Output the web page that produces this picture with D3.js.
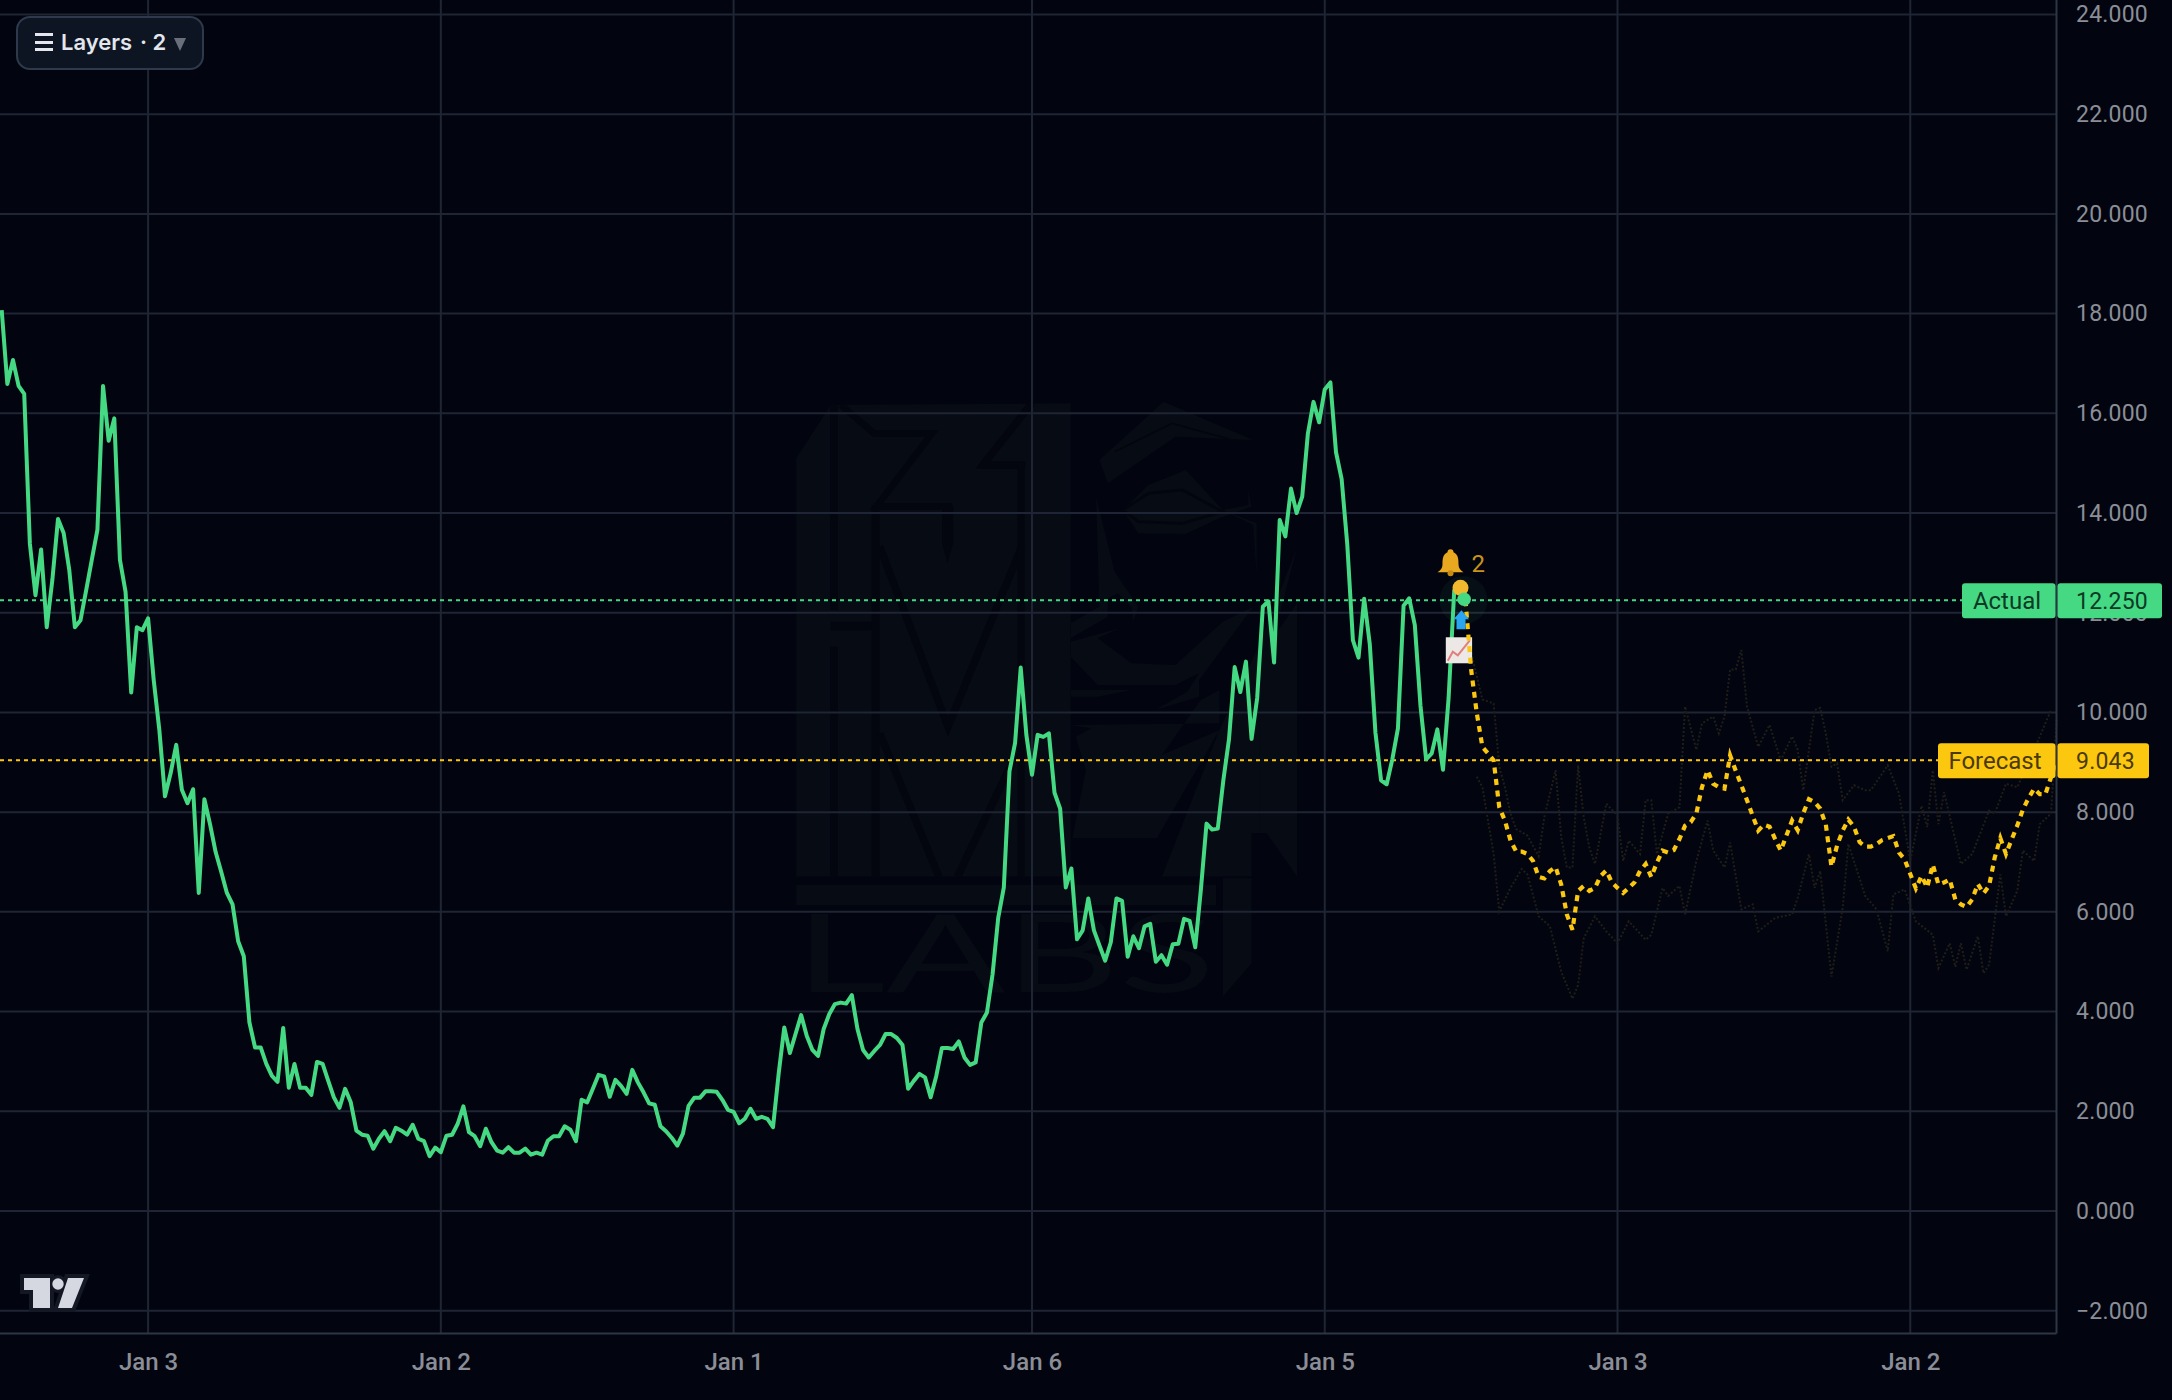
<!DOCTYPE html>
<html>
<head>
<meta charset="utf-8">
<title>Actual vs Forecast</title>
<script src="https://cdn.jsdelivr.net/npm/d3@7"></script>
<style>
  html, body { margin: 0; padding: 0; background: #02050f; }
  svg { display: block; }
</style>
</head>
<body>
<svg id="chart" width="2172" height="1400"></svg>
<script>
// Price tick values and date labels
const priceTicks = [-2, 0, 2, 4, 6, 8, 10, 12, 14, 16, 18, 20, 22, 24];
const dateTickBars = [26, 78, 130, 183, 235, 287, 339];
const dateTickLabels = ["Jan 3", "Jan 2", "Jan 1", "Jan 6", "Jan 5", "Jan 3", "Jan 2"];

// Realised series, one value per bar from bar 0
const actualValues = [
  18.07,16.59,17.07,16.55,16.39,13.39,12.35,13.27,11.71,12.66,
  13.88,13.6,12.86,11.71,11.85,12.45,13.06,13.66,16.55,15.45,
  15.9,13.06,12.42,10.4,11.71,11.65,11.89,10.65,9.65,8.32,
  8.78,9.35,8.45,8.18,8.46,6.38,8.26,7.76,7.2,6.8,
  6.38,6.15,5.41,5.11,3.78,3.28,3.28,2.95,2.71,2.59,
  3.67,2.47,2.95,2.47,2.47,2.33,2.99,2.95,2.61,2.28,
  2.07,2.45,2.18,1.61,1.53,1.51,1.25,1.45,1.6,1.4,
  1.67,1.61,1.53,1.73,1.45,1.4,1.1,1.27,1.18,1.51,
  1.53,1.75,2.1,1.58,1.5,1.3,1.65,1.38,1.21,1.17,
  1.28,1.17,1.17,1.25,1.13,1.17,1.13,1.41,1.5,1.5,
  1.7,1.63,1.4,2.23,2.18,2.45,2.73,2.7,2.29,2.63,
  2.51,2.35,2.83,2.58,2.38,2.16,2.13,1.7,1.6,1.47,
  1.31,1.55,2.11,2.27,2.27,2.4,2.4,2.39,2.23,2.03,
  1.99,1.76,1.85,2.05,1.85,1.89,1.85,1.68,2.75,3.68,
  3.17,3.55,3.93,3.51,3.23,3.11,3.65,3.95,4.15,4.18,
  4.16,4.33,3.65,3.23,3.08,3.21,3.33,3.55,3.55,3.47,
  3.33,2.45,2.61,2.75,2.68,2.28,2.71,3.27,3.27,3.25,
  3.4,3.08,2.93,2.98,3.78,3.98,4.75,5.88,6.49,8.82,
  9.39,10.9,9.55,8.75,9.55,9.51,9.58,8.39,8.07,6.49,
  6.87,5.45,5.63,6.27,5.63,5.32,5.02,5.39,6.27,6.22,
  5.1,5.51,5.27,5.71,5.76,5.0,5.13,4.94,5.35,5.36,
  5.86,5.82,5.29,6.45,7.77,7.65,7.67,8.65,9.47,10.91,
  10.41,11.02,9.47,10.29,12.12,12.23,11.0,13.86,13.53,14.49,
  14.0,14.33,15.59,16.23,15.82,16.48,16.62,15.22,14.68,13.37,
  11.45,11.1,12.28,11.37,9.6,8.64,8.56,9.06,9.68,12.14,
  12.29,11.75,10.14,9.06,9.18,9.66,8.85,10.29,12.45,12.5,
  12.25
];

// Forecast path, one value per bar from forecastStartBar
const forecastStartBar = 260;
const forecastValues = [
  12.25,10.86,9.99,9.31,9.18,9.04,8.1,7.83,7.43,7.21,
  7.21,7.16,7.02,6.7,6.67,6.82,6.9,6.55,5.95,5.64,
  6.42,6.52,6.42,6.48,6.72,6.83,6.59,6.48,6.38,6.48,
  6.59,6.82,6.96,6.7,6.99,7.23,7.19,7.24,7.46,7.73,
  7.8,7.97,8.5,8.84,8.57,8.5,8.47,9.14,8.83,8.54,
  8.24,7.93,7.63,7.75,7.71,7.46,7.23,7.53,7.83,7.64,
  7.98,8.26,8.2,8.07,7.75,6.91,7.33,7.63,7.85,7.71,
  7.4,7.31,7.31,7.36,7.44,7.48,7.52,7.19,7.05,6.76,
  6.47,6.72,6.49,6.95,6.55,6.59,6.65,6.25,6.15,6.1,
  6.25,6.56,6.37,6.52,7.09,7.48,7.16,7.45,7.73,8.05,
  8.28,8.47,8.36,8.36,8.7,9.043
];

// Faint upper and lower scenario traces around the forecast
const upperBars = [261,262,263,265,266,267,268,269,271,273,274,276,277,278,279,280,281,282,283,285,287,288,289,291,292,293,294,296,298,299,301,302,304,305,306,307,308,309,310,312,314,316,318,319,320,322,323,324,325,326,327,329,331,332,335,337,339,341,342,343,344,345,348,350,353,354,356,358,361,364];
const upperValues = [11.2,10.73,10.26,10.18,8.91,8.5,7.97,7.66,7.53,7.12,7.9,8.84,7.5,6.89,6.89,8.94,7.9,7.29,6.96,8.17,7.93,7.02,7.43,7.16,8.24,8.24,7.16,7.97,8.1,10.12,9.25,9.78,9.92,9.58,9.92,10.86,10.86,11.25,10.12,9.31,9.75,9.04,9.52,9.25,8.44,10.05,10.09,9.58,8.91,8.98,8.24,8.54,8.44,8.44,8.94,8.37,7.02,8.13,7.7,8.84,7.76,8.4,6.96,7.16,8.03,7.97,8.57,8.5,9.25,10.05];
const lowerBars = [262,263,265,266,268,270,271,273,275,277,279,280,281,283,285,287,289,292,293,295,296,298,299,301,303,304,306,307,309,311,312,315,318,319,321,322,323,325,327,328,331,333,335,336,338,340,343,344,346,347,348,349,351,352,353,355,356,358,359,361,362,364,365];
const lowerValues = [8.71,8.5,7.16,6.01,6.48,6.86,6.75,5.91,5.71,4.8,4.26,4.53,5.47,5.91,5.61,5.37,5.81,5.44,5.54,6.48,6.32,6.52,5.95,7.02,7.83,7.23,6.89,7.39,6.05,6.15,5.61,5.88,5.95,6.28,7.16,6.48,6.82,4.7,6.08,7.36,6.32,6.05,5.21,6.35,6.45,5.81,5.54,4.87,5.37,4.9,5.37,4.84,5.51,4.77,4.94,6.75,5.91,6.42,7.23,7.02,7.76,7.97,9.85];

// Last-value tags on the price scale
const actualLast = 12.25;
const forecastLast = 9.043;

const svg = d3.select("#chart");
const palette = {
  bg: "#02050f", grid: "#1f2534", axis: "#2e3646", tick: "#8b8e97",
  green: "#45d984", yellow: "#fbc70f", faint: "#1f1e19",
  wmLight: "#070b14", wmDark: "#03060f"
};

const plotRight = 2056.5, plotBottom = 1333.5;
const x = d3.scaleLinear().domain([0, 365]).range([1.7, 2056.65]);
const y = d3.scaleLinear().domain([-2, 24]).range([1310.7, 14.5]);

svg.append("rect").attr("width", 2172).attr("height", 1400).attr("fill", palette.bg);

// Background watermark: emblem with lettering below, drawn first so the grid sits on it
const mark = svg.append("g").attr("transform", "translate(780,390) scale(0.338,0.3333)");
const lightShapes = [
  "M48,205 L150,45 L860,40 L860,1460 L48,1460 Z",
  "M945,210 L1135,35 L1400,150 L1170,140 L970,280 Z",
  "M1015,360 L1090,285 L1200,240 L1310,360 L1385,345 L1385,300 L1395,350 L1300,385 L1200,432 L1060,430 Z",
  "M935,320 L990,545 L1060,650 L1045,695 L1040,650 L1000,610 L970,625 L970,680 L860,745 L860,700 L945,650 Z",
  "M1310,360 L1410,400 L1410,560 L1400,405 Z",
  "M860,755 L1005,715 L940,745 L1040,820 L1170,825 L1310,695 L1400,650 L1240,870 L1240,920 L1110,960 L1205,905 L1240,850 L1170,885 L940,885 L860,800 Z",
  "M860,900 L1040,900 L940,920 L860,920 Z",
  "M860,1005 L920,1015 L875,1040 L905,1140 L865,1345 L1115,1345 L1300,1020 L1130,1095 L1245,930 L1300,900 L1300,1000 Z",
  "M1300,1020 L1130,1460 L1395,1460 L1395,1330 L1420,1330 L1420,900 L1530,470 L1420,760 Z",
  "M1420,800 L1530,640 L1530,1460 L1440,1330 L1420,1330 Z",
  "M48,1485 L1290,1485 L1290,1545 L48,1545 Z",
  "M1310,1465 L1395,1465 L1395,1720 L1310,1820 Z",
  "M480,350 L512,350 L512,460 L495,520 L480,460 Z"
];
mark.selectAll("path.light").data(lightShapes).join("path").attr("class", "light")
  .attr("d", d => d).attr("fill", (d, i) => i === lightShapes.length - 1 ? palette.wmDark : palette.wmLight);
const darkStrokes = [
  { d: "M160,40 L160,660", w: 22 },
  { d: "M150,708 L283,708", w: 25 },
  { d: "M160,770 L160,1460", w: 22 },
  { d: "M283,345 L283,1460", w: 24 },
  { d: "M180,45 L278,130 L450,130 L285,350 L510,350", w: 20 },
  { d: "M295,470 L497,1010 L715,470", w: 22 },
  { d: "M295,1030 L470,1460", w: 22 },
  { d: "M525,1460 L700,1090", w: 22 },
  { d: "M745,40 L600,225 L725,225", w: 22 },
  { d: "M713,225 L713,1460", w: 22 },
  { d: "M990,185 L1160,100 L1410,170", w: 5 },
  { d: "M1015,360 L1090,310 L1190,300 L1310,365 L1190,400 L1060,395 Z", w: 8 }
];
mark.selectAll("path.dark").data(darkStrokes).join("path").attr("class", "dark")
  .attr("d", d => d.d).attr("fill", "none").attr("stroke", palette.wmDark)
  .attr("stroke-width", d => d.w).attr("stroke-linejoin", "miter");
svg.append("text").attr("x", 795).attr("y", 992)
  .attr("font-family", "Lato, sans-serif").attr("font-size", 108)
  .attr("textLength", 420).attr("lengthAdjust", "spacingAndGlyphs")
  .attr("fill", palette.wmLight).text("LABS");

// Grid
const grid = svg.append("g").attr("stroke", palette.grid).attr("stroke-width", 2);
grid.selectAll("line.h").data(priceTicks).join("line").attr("class", "h")
  .attr("x1", 0).attr("x2", plotRight).attr("y1", d => y(d)).attr("y2", d => y(d));
grid.selectAll("line.v").data(dateTickBars).join("line").attr("class", "v")
  .attr("x1", d => x(d)).attr("x2", d => x(d)).attr("y1", 0).attr("y2", plotBottom);

// Scenario traces
const line = d3.line().x(d => x(d[0])).y(d => y(d[1])).curve(d3.curveLinear);
[[upperBars, upperValues], [lowerBars, lowerValues]].forEach(([bars, vals]) => {
  svg.append("path").datum(d3.zip(bars, vals)).attr("d", line)
    .attr("fill", "none").attr("stroke", palette.faint)
    .attr("stroke-width", 2).attr("stroke-dasharray", "2 2");
});

// Last-value guide lines
[[actualLast, palette.green], [forecastLast, palette.yellow]].forEach(([v, c]) => {
  svg.append("line").attr("x1", 0).attr("x2", plotRight).attr("y1", y(v)).attr("y2", y(v))
    .attr("stroke", c).attr("stroke-width", 2).attr("stroke-dasharray", "4 4");
});

// Actual series
svg.append("path").datum(actualValues.map((v, i) => [i, v])).attr("d", line)
  .attr("fill", "none").attr("stroke", palette.green).attr("stroke-width", 4)
  .attr("stroke-linejoin", "round");

// Event markers anchored on the hand-over bar
const anchor = `translate(${x(forecastStartBar)},${y(actualLast)})`;
const chartIcon = svg.append("g").attr("transform", anchor);
chartIcon.append("rect").attr("x", -19.7).attr("y", 37).attr("width", 26.3).attr("height", 26)
  .attr("fill", "#ece8e6");
chartIcon.append("path").attr("d", "M-17.7,60.5 L-12.7,51.5 L-7.7,55 L4.3,40").attr("fill", "none")
  .attr("stroke", "#e07f7c").attr("stroke-width", 2);

// Forecast series
svg.append("path").datum(forecastValues.map((v, i) => [forecastStartBar + i, v])).attr("d", line)
  .attr("fill", "none").attr("stroke", palette.yellow).attr("stroke-width", 4.2)
  .attr("stroke-dasharray", "6 5.5");

const markers = svg.append("g").attr("transform", anchor);
markers.append("circle").attr("cx", -2).attr("cy", 0).attr("r", 24).attr("fill", palette.green).attr("opacity", 0.05);
markers.append("circle").attr("cx", -5).attr("cy", -12.5).attr("r", 8).attr("fill", "#f3b92e");
markers.append("circle").attr("cx", -1.4).attr("cy", -1).attr("r", 6.8).attr("fill", palette.green);
markers.append("path").attr("d", "M-4,10 L3.5,19 L0,19 L0,29 L-9,29 L-9,19 L-12,19 Z").attr("fill", "#2aa5f2");
const bell = markers.append("g").attr("transform", "translate(-15,-37)");
bell.append("path").attr("d", "M0,-14 C-2,-14 -3,-13 -3,-11 C-8,-9 -8,-3 -8,1 C-8,5 -10,7 -13,9 L13,9 C10,7 8,5 8,1 C8,-3 8,-9 3,-11 C3,-13 2,-14 0,-14 Z")
  .attr("fill", "#e8a820");
bell.append("circle").attr("cy", 10).attr("r", 3).attr("fill", "#c98a12");
markers.append("text").attr("x", 6).attr("y", -28).attr("font-family", "Roboto, sans-serif")
  .attr("font-size", 24).attr("fill", "#c9931b").text("2");

// Axes
const axisRight = d3.axisRight(y).tickValues(priceTicks)
  .tickSize(0).tickPadding(0)
  .tickFormat(d => d3.format(".3f")(d).replace("-", "\u2212"));
const gy = svg.append("g").attr("transform", "translate(2076,0)").call(axisRight);
gy.select(".domain").remove();
gy.selectAll("text").attr("font-family", "Roboto, sans-serif").attr("font-size", 23)
  .attr("fill", palette.tick).attr("letter-spacing", 0.2);

const axisBottom = d3.axisBottom(x).tickValues(dateTickBars).tickSize(0).tickPadding(0)
  .tickFormat((d, i) => dateTickLabels[i]);
const gx = svg.append("g").attr("transform", "translate(0,1353)").call(axisBottom);
gx.select(".domain").remove();
gx.selectAll("text").attr("font-family", "Roboto, sans-serif").attr("font-size", 24)
  .attr("font-weight", 500).attr("fill", palette.tick);

svg.append("line").attr("x1", plotRight).attr("x2", plotRight).attr("y1", 0).attr("y2", plotBottom)
  .attr("stroke", palette.axis).attr("stroke-width", 2);
svg.append("line").attr("x1", 0).attr("x2", plotRight).attr("y1", plotBottom).attr("y2", plotBottom)
  .attr("stroke", palette.axis).attr("stroke-width", 2);

// Last-value tags
const tags = [
  { name: "Actual", value: actualLast, color: palette.green, left: 1962, right: 2162, nameX: 2007, ink: "#0b3a24" },
  { name: "Forecast", value: forecastLast, color: palette.yellow, left: 1938, right: 2149, nameX: 1995, ink: "#4a3a05" }
];
tags.forEach(t => {
  const g = svg.append("g").attr("transform", `translate(0,${y(t.value) + 0.5})`);
  g.append("rect").attr("x", t.left).attr("y", -17.5).attr("width", plotRight - 1 - t.left).attr("height", 35)
    .attr("rx", 3).attr("fill", t.color);
  g.append("rect").attr("x", plotRight + 1).attr("y", -17.5).attr("width", t.right - plotRight - 1).attr("height", 35)
    .attr("rx", 3).attr("fill", t.color);
  g.append("text").attr("x", t.nameX).attr("y", 8).attr("text-anchor", "middle")
    .attr("font-family", "Roboto, sans-serif").attr("font-size", 24).attr("fill", t.ink).text(t.name);
  g.append("text").attr("x", 2076).attr("y", 8)
    .attr("font-family", "Roboto, sans-serif").attr("font-size", 23).attr("fill", t.ink)
    .attr("letter-spacing", 0.2).text(d3.format(".3f")(t.value));
});

// Layers control
const ctl = svg.append("g");
ctl.append("rect").attr("x", 17).attr("y", 17).attr("width", 186).attr("height", 52).attr("rx", 13)
  .attr("fill", "#0e1522").attr("stroke", "#2e394c").attr("stroke-width", 2);
ctl.selectAll("rect.bar").data([33, 41, 48]).join("rect").attr("class", "bar")
  .attr("x", 35).attr("y", d => d).attr("width", 18).attr("height", 3).attr("fill", "#e3e6ec");
ctl.append("text").attr("x", 61).attr("y", 50).attr("font-family", "Inter, sans-serif")
  .attr("font-size", 22).attr("font-weight", 600).attr("fill", "#e3e6ec").text("Layers");
ctl.append("text").attr("x", 140).attr("y", 50).attr("font-family", "Inter, sans-serif")
  .attr("font-size", 22).attr("font-weight", 600).attr("fill", "#e3e6ec").text("\u00B7 2");
ctl.append("path").attr("d", "M174,38 L186,38 L180,51 Z").attr("fill", "#6a6f7c");

// Corner logo
const logoPaths = [
  "M24,1278 L50,1278 L50,1308 L33,1308 L33,1290 L24,1290 Z",
  "M68,1278 L84,1278 L72,1308 L58,1308 Z"
];
const logo = svg.append("g");
logoPaths.forEach(d => logo.append("path").attr("d", d).attr("fill", "#141824").attr("stroke", "#141824")
  .attr("stroke-width", 8).attr("stroke-linejoin", "miter"));
logo.append("circle").attr("cx", 58).attr("cy", 1284).attr("r", 9).attr("fill", "#141824");
logoPaths.forEach(d => logo.append("path").attr("d", d).attr("fill", "#d5d7e1"));
logo.append("circle").attr("cx", 58).attr("cy", 1284).attr("r", 5.7).attr("fill", "#d5d7e1");
</script>
</body>
</html>
